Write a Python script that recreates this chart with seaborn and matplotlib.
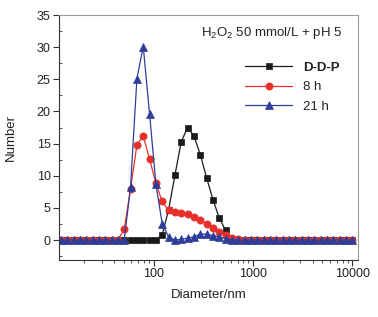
import matplotlib
matplotlib.use("Agg")
import matplotlib.pyplot as plt
import seaborn as sns
import pandas as pd
from matplotlib.ticker import LogLocator, MultipleLocator, FixedLocator, NullFormatter

# Size classes (nm)
diameter = [11.70, 13.54, 15.69, 18.17, 21.04, 24.36, 28.21, 32.67, 37.84, 43.82,
            50.75, 58.77, 68.06, 78.82, 91.28, 105.7, 122.4, 141.8, 164.2, 190.1,
            220.2, 255.0, 295.3, 342.0, 396.1, 458.7, 531.2, 615.1, 712.4, 825.0,
            955.4, 1106, 1281, 1484, 1718, 1990, 2305, 2669, 3091, 3580,
            4145, 4801, 5560, 6439, 7456, 8635, 10000]

ddp = [0, 0, 0, 0, 0, 0, 0, 0, 0, 0,
       0, 0, 0, 0, 0, 0, 0.85, 4.7, 10.1, 15.3,
       17.5, 16.2, 13.3, 9.7, 6.3, 3.4, 1.5, 0.2, 0, 0,
       0, 0, 0, 0, 0, 0, 0, 0, 0, 0,
       0, 0, 0, 0, 0, 0, 0]

h8 = [0, 0, 0, 0, 0, 0, 0, 0, 0, 0,
      1.7, 8.0, 14.8, 16.2, 12.6, 8.8, 6.0, 4.6, 4.3, 4.25,
      4.05, 3.55, 3.1, 2.5, 1.8, 1.25, 0.73, 0.36, 0.1, 0,
      0, 0, 0, 0, 0, 0, 0, 0, 0, 0,
      0, 0, 0, 0, 0, 0, 0]

h21 = [0, 0, 0, 0, 0, 0, 0, 0, 0, 0,
       0, 8.3, 25.1, 30.1, 19.6, 8.7, 2.5, 0.5, 0.0, 0.1,
       0.3, 0.5, 0.9, 0.95, 0.7, 0.5, 0.2, 0.05, 0, 0,
       0, 0, 0, 0, 0, 0, 0, 0, 0, 0,
       0, 0, 0, 0, 0, 0, 0]

labels = ["D-D-P", "8 h", "21 h"]
annotation = r"H$_2$O$_2$ 50 mmol/L + pH 5"

sns.set_style("ticks")
plt.rcParams["font.family"] = ["Liberation Sans", "DejaVu Sans"]
plt.rcParams["mathtext.fontset"] = "custom"
plt.rcParams["mathtext.rm"] = "Liberation Sans"
plt.rcParams["mathtext.it"] = "Liberation Sans:italic"

fig = plt.figure(figsize=(3.78, 3.17), dpi=100)
ax = fig.add_axes([59/378, 1 - 260/317, (358-59)/378, (260-15)/317])

styles = [
    (ddp, "#1a1a1a", "s", 4.3),
    (h8, "#e8302a", "o", 5.2),
    (h21, "#2e3e98", "^", 5.2),
]
for (vals, col, mk, ms), lab in zip(styles, labels):
    sns.lineplot(x=diameter, y=vals, ax=ax, color=col, marker=mk, markersize=ms,
                 markeredgecolor=col, markeredgewidth=0.5, linewidth=0.9, label=lab,
                 estimator=None, sort=False)

ax.set_xscale("log")
ax.set_xlim(11.2, 11400)
ax.set_ylim(-3.1, 35)

ax.xaxis.set_major_locator(FixedLocator([100, 1000, 10000]))
ax.set_xticklabels(["100", "1000", "10000"])
ax.xaxis.set_minor_locator(LogLocator(base=10, subs=range(2, 10)))
ax.xaxis.set_minor_formatter(NullFormatter())
ax.yaxis.set_major_locator(MultipleLocator(5))
ax.yaxis.set_minor_locator(MultipleLocator(2.5))

ax.tick_params(axis="both", which="major", labelsize=9, length=4, width=0.8,
               direction="out", color="#333333", labelcolor="#222222", pad=2)
ax.tick_params(axis="x", which="minor", length=2.5, width=0.6, direction="out", color="#333333")
ax.tick_params(axis="y", which="minor", length=2.5, width=0.6, direction="in", color="#333333")

for s in ["left", "bottom"]:
    ax.spines[s].set_color("#333333")
    ax.spines[s].set_linewidth(0.8)
for s in ["top", "right"]:
    ax.spines[s].set_visible(True)
    ax.spines[s].set_color("#9a9a9a")
    ax.spines[s].set_linewidth(0.8)

ax.set_xlabel("Diameter/nm", fontsize=9.5, color="#222222", labelpad=6)
ax.set_ylabel("Number", fontsize=9.5, color="#222222", labelpad=14)

ax.text(0.946, 0.927, annotation, transform=ax.transAxes, ha="right", va="center",
        fontsize=9.5, color="#222222")

leg = ax.legend(loc="upper left", bbox_to_anchor=(0.622, 0.81), frameon=False,
                fontsize=9.5, handlelength=3.6, handletextpad=0.8, labelspacing=0.55,
                borderpad=0, borderaxespad=0)
for t in leg.get_texts():
    t.set_color("#222222")
leg.get_texts()[0].set_fontweight("bold")

fig.savefig("out.png", dpi=100)
